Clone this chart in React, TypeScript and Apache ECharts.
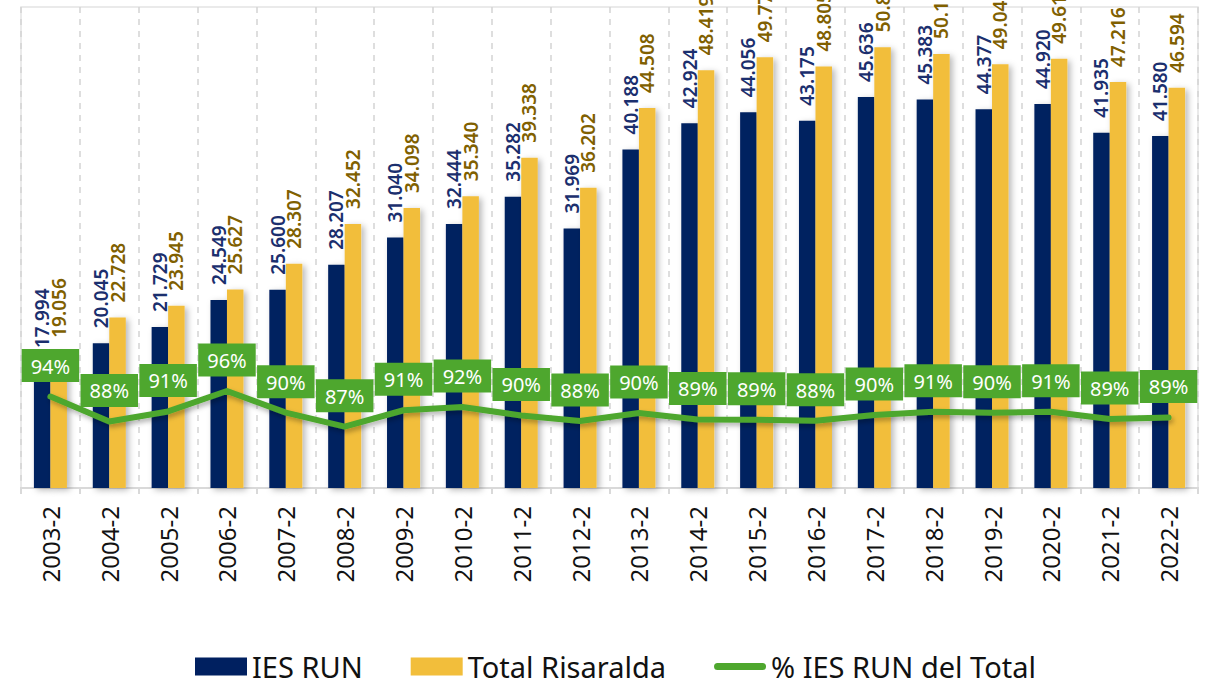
import React, { useEffect, useRef } from "react";
import * as echarts from "echarts";

const categories = [
  "2003-2", "2004-2", "2005-2", "2006-2", "2007-2", "2008-2", "2009-2", "2010-2", "2011-2", "2012-2",
  "2013-2", "2014-2", "2015-2", "2016-2", "2017-2", "2018-2", "2019-2", "2020-2", "2021-2", "2022-2",
];

const iesRun = [
  17994, 20045, 21729, 24549, 25600, 28207, 31040, 32444, 35282, 31969,
  40188, 42924, 44056, 43175, 45636, 45383, 44377, 44920, 41935, 41580,
];

const totalRisaralda = [
  19056, 22728, 23945, 25627, 28307, 32452, 34098, 35340, 39338, 36202,
  44508, 48419, 49774, 48805, 50812, 50118, 49046, 49612, 47216, 46594,
];

const pctIes = [
  0.944, 0.882, 0.907, 0.958, 0.904, 0.869, 0.91, 0.918, 0.897, 0.883,
  0.903, 0.887, 0.886, 0.884, 0.898, 0.906, 0.904, 0.906, 0.888, 0.892,
];

const NAVY = "#002060";
const GOLD = "#F2BE3B";
const GREEN = "#4EA72E";
const FONT = "'Noto Sans', sans-serif";

function fmt(v: number): string {
  const s = String(Math.round(v));
  return s.replace(/\B(?=(\d{3})+(?!\d))/g, ".");
}

export default function App() {
  const ref = useRef<HTMLDivElement>(null);

  useEffect(() => {
    if (!ref.current) return;
    const chart = echarts.init(ref.current, null, { renderer: "svg" });
    const barShadow = {
      shadowColor: "rgba(0,0,0,0.28)",
      shadowBlur: 6,
      shadowOffsetX: 3,
      shadowOffsetY: 2,
    };
    const barLabel = {
      show: true,
      position: "top",
      rotate: 90,
      align: "left",
      verticalAlign: "middle",
      distance: 15,
      fontSize: 19,
      fontWeight: 600,
      fontFamily: FONT,
      formatter: (p: any) => fmt(p.value),
    };
    chart.setOption({
      animation: false,
      backgroundColor: "#ffffff",
      textStyle: { fontFamily: FONT },
      grid: {
        left: 21,
        right: 11,
        top: 7,
        bottom: 190,
        show: true,
        borderColor: "#e3e3e3",
        borderWidth: 1.5,
        containLabel: false,
      },
      legend: {
        top: 652,
        left: 195,
        itemWidth: 52,
        itemHeight: 18,
        itemGap: 48,
        padding: 0,
        textStyle: { fontSize: 29, lineHeight: 28, color: "#111", fontFamily: FONT },
        data: [
          { name: "IES RUN", icon: "rect" },
          { name: "Total Risaralda", icon: "rect" },
          {
            name: "% IES RUN del Total",
            icon: "path://M0,0 M52,18 M3.5,5.5 H48.5 A3.5,3.5 0 0 1 48.5,12.5 H3.5 A3.5,3.5 0 0 1 3.5,5.5 Z",
            itemStyle: { color: GREEN },
          },
        ],
      },
      xAxis: {
        type: "category",
        data: categories,
        boundaryGap: true,
        axisLine: { show: true, lineStyle: { color: "#d9d9d9", width: 2 } },
        axisTick: { show: true, alignWithLabel: false, length: 6, lineStyle: { color: "#d9d9d9", width: 2 } },
        splitLine: {
          show: true,
          interval: 0,
          lineStyle: { color: "#d4d4d4", type: [6, 6], width: 1.5 },
        },
        axisLabel: {
          rotate: 90,
          fontSize: 24,
          color: "#111",
          margin: 18,
          interval: 0,
          fontFamily: FONT,
        },
      },
      yAxis: [
        { type: "value", min: 5000, max: 55000, show: false, splitLine: { show: false } },
        { type: "value", min: 0.716, max: 1.916, show: false, splitLine: { show: false } },
      ],
      series: [
        {
          name: "IES RUN",
          type: "bar",
          data: iesRun,
          barWidth: 16.5,
          barGap: "0%",
          itemStyle: { color: NAVY, ...barShadow },
          label: { ...barLabel, color: "#1B2F6E" },
        },
        {
          name: "Total Risaralda",
          type: "bar",
          data: totalRisaralda,
          barWidth: 16.5,
          barGap: "0%",
          itemStyle: { color: GOLD, ...barShadow },
          label: { ...barLabel, color: "#806000" },
        },
        {
          name: "% IES RUN del Total",
          type: "line",
          yAxisIndex: 1,
          data: pctIes,
          symbol: "circle",
          symbolSize: 1,
          showSymbol: true,
          showAllSymbol: true,
          z: 5,
          lineStyle: {
            color: GREEN,
            width: 6,
            cap: "round",
            join: "round",
            shadowColor: "rgba(0,0,0,0.3)",
            shadowBlur: 5,
            shadowOffsetX: 2,
            shadowOffsetY: 3,
          },
          itemStyle: { color: GREEN },
          label: {
            show: true,
            position: "top",
            distance: 14,
            color: "#ffffff",
            fontSize: 20,
            lineHeight: 20,
            backgroundColor: GREEN,
            padding: [7, 9, 6, 9],
            fontFamily: FONT,
            formatter: (p: any) => Math.round(p.value * 100) + "%",
          },
        },
      ],
    });
    return () => chart.dispose();
  }, []);

  return (
    <div
      ref={ref}
      style={{ position: "fixed", left: 0, top: 0, width: 1209, height: 678 }}
    />
  );
}
